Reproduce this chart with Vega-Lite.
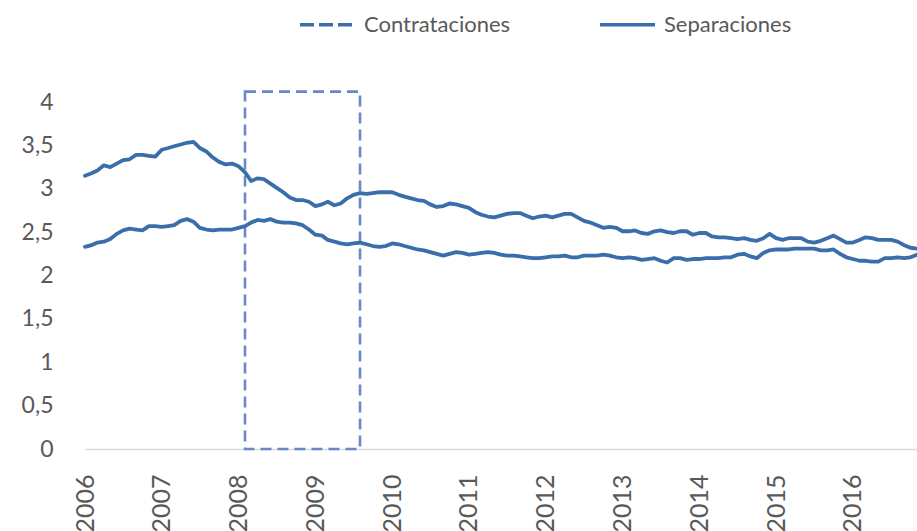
{
  "$schema": "https://vega.github.io/schema/vega-lite/v6.json",
  "width": 832,
  "height": 360,
  "autosize": {"type": "none"},
  "padding": {"left": 85, "top": 89, "right": 0, "bottom": 82},
  "background": "white",
  "config": {"view": {"stroke": null}, "font": "Lato"},
  "layer": [
    {
      "data": {"values": [{"a": "2008-02-01", "b": "2009-08-01", "y0": 0, "y1": 4.12}]},
      "mark": {"type": "rect", "fill": "transparent", "stroke": "#6a88c6", "strokeWidth": 2.6, "strokeDash": [11, 6]},
      "encoding": {
        "x": {"field": "a", "type": "temporal", "scale": {"type": "utc"}},
        "x2": {"field": "b"},
        "y": {"field": "y0", "type": "quantitative"},
        "y2": {"field": "y1"}
      }
    },
    {
      "data": {"values": [
{"d":"2006-01-01","Contrataciones":3.15,"Separaciones":2.33},
{"d":"2006-02-01","Contrataciones":3.18,"Separaciones":2.35},
{"d":"2006-03-01","Contrataciones":3.21,"Separaciones":2.38},
{"d":"2006-04-01","Contrataciones":3.27,"Separaciones":2.39},
{"d":"2006-05-01","Contrataciones":3.25,"Separaciones":2.42},
{"d":"2006-06-01","Contrataciones":3.29,"Separaciones":2.48},
{"d":"2006-07-01","Contrataciones":3.33,"Separaciones":2.52},
{"d":"2006-08-01","Contrataciones":3.34,"Separaciones":2.54},
{"d":"2006-09-01","Contrataciones":3.39,"Separaciones":2.53},
{"d":"2006-10-01","Contrataciones":3.39,"Separaciones":2.52},
{"d":"2006-11-01","Contrataciones":3.38,"Separaciones":2.57},
{"d":"2006-12-01","Contrataciones":3.37,"Separaciones":2.57},
{"d":"2007-01-01","Contrataciones":3.45,"Separaciones":2.56},
{"d":"2007-02-01","Contrataciones":3.47,"Separaciones":2.57},
{"d":"2007-03-01","Contrataciones":3.49,"Separaciones":2.58},
{"d":"2007-04-01","Contrataciones":3.51,"Separaciones":2.63},
{"d":"2007-05-01","Contrataciones":3.53,"Separaciones":2.65},
{"d":"2007-06-01","Contrataciones":3.54,"Separaciones":2.62},
{"d":"2007-07-01","Contrataciones":3.47,"Separaciones":2.55},
{"d":"2007-08-01","Contrataciones":3.43,"Separaciones":2.53},
{"d":"2007-09-01","Contrataciones":3.36,"Separaciones":2.52},
{"d":"2007-10-01","Contrataciones":3.31,"Separaciones":2.53},
{"d":"2007-11-01","Contrataciones":3.28,"Separaciones":2.53},
{"d":"2007-12-01","Contrataciones":3.29,"Separaciones":2.53},
{"d":"2008-01-01","Contrataciones":3.26,"Separaciones":2.55},
{"d":"2008-02-01","Contrataciones":3.19,"Separaciones":2.57},
{"d":"2008-03-01","Contrataciones":3.09,"Separaciones":2.61},
{"d":"2008-04-01","Contrataciones":3.12,"Separaciones":2.64},
{"d":"2008-05-01","Contrataciones":3.11,"Separaciones":2.63},
{"d":"2008-06-01","Contrataciones":3.06,"Separaciones":2.65},
{"d":"2008-07-01","Contrataciones":3.01,"Separaciones":2.62},
{"d":"2008-08-01","Contrataciones":2.96,"Separaciones":2.61},
{"d":"2008-09-01","Contrataciones":2.90,"Separaciones":2.61},
{"d":"2008-10-01","Contrataciones":2.87,"Separaciones":2.60},
{"d":"2008-11-01","Contrataciones":2.87,"Separaciones":2.58},
{"d":"2008-12-01","Contrataciones":2.85,"Separaciones":2.53},
{"d":"2009-01-01","Contrataciones":2.80,"Separaciones":2.47},
{"d":"2009-02-01","Contrataciones":2.82,"Separaciones":2.46},
{"d":"2009-03-01","Contrataciones":2.85,"Separaciones":2.41},
{"d":"2009-04-01","Contrataciones":2.81,"Separaciones":2.39},
{"d":"2009-05-01","Contrataciones":2.83,"Separaciones":2.37},
{"d":"2009-06-01","Contrataciones":2.89,"Separaciones":2.36},
{"d":"2009-07-01","Contrataciones":2.93,"Separaciones":2.37},
{"d":"2009-08-01","Contrataciones":2.95,"Separaciones":2.38},
{"d":"2009-09-01","Contrataciones":2.94,"Separaciones":2.36},
{"d":"2009-10-01","Contrataciones":2.95,"Separaciones":2.34},
{"d":"2009-11-01","Contrataciones":2.96,"Separaciones":2.33},
{"d":"2009-12-01","Contrataciones":2.96,"Separaciones":2.34},
{"d":"2010-01-01","Contrataciones":2.96,"Separaciones":2.37},
{"d":"2010-02-01","Contrataciones":2.93,"Separaciones":2.36},
{"d":"2010-03-01","Contrataciones":2.91,"Separaciones":2.34},
{"d":"2010-04-01","Contrataciones":2.89,"Separaciones":2.32},
{"d":"2010-05-01","Contrataciones":2.87,"Separaciones":2.30},
{"d":"2010-06-01","Contrataciones":2.86,"Separaciones":2.29},
{"d":"2010-07-01","Contrataciones":2.82,"Separaciones":2.27},
{"d":"2010-08-01","Contrataciones":2.79,"Separaciones":2.25},
{"d":"2010-09-01","Contrataciones":2.80,"Separaciones":2.23},
{"d":"2010-10-01","Contrataciones":2.83,"Separaciones":2.25},
{"d":"2010-11-01","Contrataciones":2.82,"Separaciones":2.27},
{"d":"2010-12-01","Contrataciones":2.80,"Separaciones":2.26},
{"d":"2011-01-01","Contrataciones":2.78,"Separaciones":2.24},
{"d":"2011-02-01","Contrataciones":2.73,"Separaciones":2.25},
{"d":"2011-03-01","Contrataciones":2.70,"Separaciones":2.26},
{"d":"2011-04-01","Contrataciones":2.68,"Separaciones":2.27},
{"d":"2011-05-01","Contrataciones":2.67,"Separaciones":2.26},
{"d":"2011-06-01","Contrataciones":2.69,"Separaciones":2.24},
{"d":"2011-07-01","Contrataciones":2.71,"Separaciones":2.23},
{"d":"2011-08-01","Contrataciones":2.72,"Separaciones":2.23},
{"d":"2011-09-01","Contrataciones":2.72,"Separaciones":2.22},
{"d":"2011-10-01","Contrataciones":2.69,"Separaciones":2.21},
{"d":"2011-11-01","Contrataciones":2.66,"Separaciones":2.20},
{"d":"2011-12-01","Contrataciones":2.68,"Separaciones":2.20},
{"d":"2012-01-01","Contrataciones":2.69,"Separaciones":2.21},
{"d":"2012-02-01","Contrataciones":2.67,"Separaciones":2.22},
{"d":"2012-03-01","Contrataciones":2.69,"Separaciones":2.22},
{"d":"2012-04-01","Contrataciones":2.71,"Separaciones":2.23},
{"d":"2012-05-01","Contrataciones":2.71,"Separaciones":2.21},
{"d":"2012-06-01","Contrataciones":2.67,"Separaciones":2.21},
{"d":"2012-07-01","Contrataciones":2.63,"Separaciones":2.23},
{"d":"2012-08-01","Contrataciones":2.61,"Separaciones":2.23},
{"d":"2012-09-01","Contrataciones":2.58,"Separaciones":2.23},
{"d":"2012-10-01","Contrataciones":2.55,"Separaciones":2.24},
{"d":"2012-11-01","Contrataciones":2.56,"Separaciones":2.23},
{"d":"2012-12-01","Contrataciones":2.55,"Separaciones":2.21},
{"d":"2013-01-01","Contrataciones":2.51,"Separaciones":2.20},
{"d":"2013-02-01","Contrataciones":2.51,"Separaciones":2.21},
{"d":"2013-03-01","Contrataciones":2.52,"Separaciones":2.20},
{"d":"2013-04-01","Contrataciones":2.49,"Separaciones":2.18},
{"d":"2013-05-01","Contrataciones":2.48,"Separaciones":2.19},
{"d":"2013-06-01","Contrataciones":2.51,"Separaciones":2.20},
{"d":"2013-07-01","Contrataciones":2.52,"Separaciones":2.17},
{"d":"2013-08-01","Contrataciones":2.50,"Separaciones":2.15},
{"d":"2013-09-01","Contrataciones":2.49,"Separaciones":2.20},
{"d":"2013-10-01","Contrataciones":2.51,"Separaciones":2.20},
{"d":"2013-11-01","Contrataciones":2.51,"Separaciones":2.18},
{"d":"2013-12-01","Contrataciones":2.47,"Separaciones":2.19},
{"d":"2014-01-01","Contrataciones":2.49,"Separaciones":2.19},
{"d":"2014-02-01","Contrataciones":2.49,"Separaciones":2.20},
{"d":"2014-03-01","Contrataciones":2.45,"Separaciones":2.20},
{"d":"2014-04-01","Contrataciones":2.44,"Separaciones":2.20},
{"d":"2014-05-01","Contrataciones":2.44,"Separaciones":2.21},
{"d":"2014-06-01","Contrataciones":2.43,"Separaciones":2.21},
{"d":"2014-07-01","Contrataciones":2.42,"Separaciones":2.24},
{"d":"2014-08-01","Contrataciones":2.43,"Separaciones":2.25},
{"d":"2014-09-01","Contrataciones":2.41,"Separaciones":2.22},
{"d":"2014-10-01","Contrataciones":2.40,"Separaciones":2.20},
{"d":"2014-11-01","Contrataciones":2.43,"Separaciones":2.26},
{"d":"2014-12-01","Contrataciones":2.48,"Separaciones":2.29},
{"d":"2015-01-01","Contrataciones":2.43,"Separaciones":2.30},
{"d":"2015-02-01","Contrataciones":2.41,"Separaciones":2.30},
{"d":"2015-03-01","Contrataciones":2.43,"Separaciones":2.30},
{"d":"2015-04-01","Contrataciones":2.43,"Separaciones":2.31},
{"d":"2015-05-01","Contrataciones":2.43,"Separaciones":2.31},
{"d":"2015-06-01","Contrataciones":2.39,"Separaciones":2.31},
{"d":"2015-07-01","Contrataciones":2.38,"Separaciones":2.31},
{"d":"2015-08-01","Contrataciones":2.40,"Separaciones":2.29},
{"d":"2015-09-01","Contrataciones":2.43,"Separaciones":2.29},
{"d":"2015-10-01","Contrataciones":2.46,"Separaciones":2.30},
{"d":"2015-11-01","Contrataciones":2.42,"Separaciones":2.25},
{"d":"2015-12-01","Contrataciones":2.38,"Separaciones":2.21},
{"d":"2016-01-01","Contrataciones":2.38,"Separaciones":2.19},
{"d":"2016-02-01","Contrataciones":2.41,"Separaciones":2.17},
{"d":"2016-03-01","Contrataciones":2.44,"Separaciones":2.17},
{"d":"2016-04-01","Contrataciones":2.43,"Separaciones":2.16},
{"d":"2016-05-01","Contrataciones":2.41,"Separaciones":2.16},
{"d":"2016-06-01","Contrataciones":2.41,"Separaciones":2.20},
{"d":"2016-07-01","Contrataciones":2.41,"Separaciones":2.20},
{"d":"2016-08-01","Contrataciones":2.39,"Separaciones":2.21},
{"d":"2016-09-01","Contrataciones":2.35,"Separaciones":2.20},
{"d":"2016-10-01","Contrataciones":2.32,"Separaciones":2.21},
{"d":"2016-11-01","Contrataciones":2.31,"Separaciones":2.24}
      ]},
      "transform": [{"fold": ["Contrataciones", "Separaciones"], "as": ["serie", "valor"]}],
      "mark": {"type": "line", "strokeWidth": 3.8, "strokeJoin": "round", "strokeCap": "round"},
      "encoding": {
        "x": {
          "field": "d", "type": "temporal",
          "scale": {"type": "utc", "domain": [{"year": 2006, "month": 1, "date": 1, "utc": true}, {"year": 2016, "month": 11, "date": 1, "utc": true}]},
          "axis": {
            "title": null,
            "format": "%Y",
            "values": [
              {"year": 2006, "month": 1, "date": 1, "utc": true},
              {"year": 2007, "month": 1, "date": 1, "utc": true},
              {"year": 2008, "month": 1, "date": 1, "utc": true},
              {"year": 2009, "month": 1, "date": 1, "utc": true},
              {"year": 2010, "month": 1, "date": 1, "utc": true},
              {"year": 2011, "month": 1, "date": 1, "utc": true},
              {"year": 2012, "month": 1, "date": 1, "utc": true},
              {"year": 2013, "month": 1, "date": 1, "utc": true},
              {"year": 2014, "month": 1, "date": 1, "utc": true},
              {"year": 2015, "month": 1, "date": 1, "utc": true},
              {"year": 2016, "month": 1, "date": 1, "utc": true}
            ],
            "labelAngle": -90,
            "labelAlign": "right",
            "labelBaseline": "middle",
            "labelFontSize": 25,
            "labelColor": "#595959",
            "labelPadding": 25,
            "labelFlush": false,
            "labelOverlap": false,
            "ticks": false,
            "grid": false,
            "domainColor": "#d9d9d9",
            "domainWidth": 1.3
          }
        },
        "y": {
          "field": "valor", "type": "quantitative",
          "scale": {"domain": [0, 4.15], "nice": false, "zero": true},
          "axis": {
            "title": null,
            "values": [0, 0.5, 1, 1.5, 2, 2.5, 3, 3.5, 4],
            "labelExpr": "replace(toString(datum.value), '.', ',')",
            "labelFontSize": 23,
            "labelColor": "#595959",
            "labelPadding": 32,
            "ticks": false,
            "domain": false,
            "grid": false
          }
        },
        "color": {
          "field": "serie", "type": "nominal",
          "scale": {"domain": ["Contrataciones", "Separaciones"], "range": ["#3a6eab", "#3a6eab"]},
          "legend": {
            "title": null,
            "orient": "none",
            "legendX": 213,
            "legendY": -94,
            "direction": "horizontal",
            "symbolType": "stroke",
            "symbolSize": 3025,
            "symbolStrokeWidth": 3.5,
            "labelFontSize": 22,
            "labelColor": "#595959",
            "labelOffset": 7,
            "labelLimit": 400,
            "columnPadding": 82,
            "encode": {
              "symbols": {
                "update": {
                  "stroke": {"signal": "datum.value === 'Contrataciones' ? '#6a88c6' : '#3a6eab'"},
                  "strokeDash": {"signal": "datum.value === 'Contrataciones' ? [14, 5] : [1, 0]"}
                }
              }
            }
          }
        }
      }
    }
  ]
}
